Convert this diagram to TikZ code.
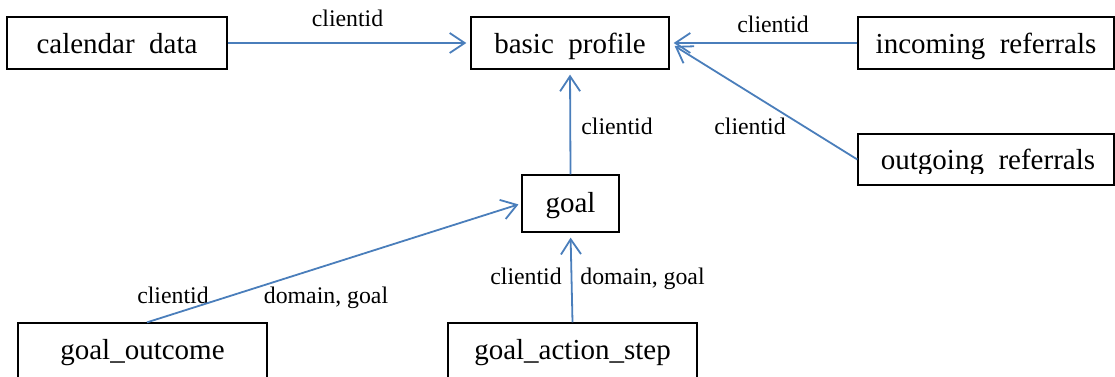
\documentclass[tikz,border=0pt]{standalone}
\usepackage{fontspec}
\setmainfont{Liberation Serif}
\usetikzlibrary{arrows.meta,calc}
\definecolor{linkblue}{HTML}{4A7EBB}
\tikzset{
  box/.style={draw=black, line width=1.3pt, inner sep=0pt, font=\fontsize{29}{34}\selectfont},
  tbox/.style={box, text height=36.5pt, text depth=15.5pt, minimum height=52pt},
  bbox/.style={box, text height=36pt, text depth=22pt, minimum height=58pt, minimum width=249pt},
  lbl/.style={font=\fontsize{23.8}{28}\selectfont, anchor=base, inner sep=0pt},
  link/.style={draw=linkblue, line width=1.8pt, -{Straight Barb[length=15pt,width=20pt]}},
}
\begin{document}
\begin{tikzpicture}[x=1pt,y=-1pt]
\useasboundingbox (0,0) rectangle (1115,377);
\clip (0,0) rectangle (1115,377);
% boxes
\node[tbox, minimum width=220pt] (calendar) at (117,43) {calendar\ \ data};
\node[tbox, minimum width=198pt] (basic) at (570,43) {basic\ \ profile};
\node[tbox, minimum width=256pt] (incoming) at (986,43) {incoming\ \ referrals};
\node[box, minimum width=256pt, minimum height=51pt] (outgoing) at (986,159.5) {};
\begin{scope}
  \clip (858,134) rectangle (1114,173);
  \node[font=\fontsize{29}{34}\selectfont, anchor=base, inner sep=0pt] (outgoingtext) at (988,169) {outgoing\ \ referrals};
\end{scope}
\node[box, minimum width=97pt, minimum height=57pt, text height=37pt, text depth=20pt] (goal) at (570.5,203.5) {goal};
\node[bbox] (goalout) at (142.5,352) {goal\_outcome};
\node[bbox] (gas) at (572.5,352) {goal\_action\_step};
% labels
\node[lbl] (l1) at (347.5,26.5) {clientid};
\node[lbl] (l2) at (773,33) {clientid};
\node[lbl] (l3) at (617,134.5) {clientid};
\node[lbl] (l4) at (750,134.5) {clientid};
\node[lbl] (l5) at (173,303) {clientid};
\node[lbl] (l6) at (326,303) {domain, goal};
\node[lbl] (l7) at (526,284) {clientid};
\node[lbl] (l8) at (642.5,284) {domain, goal};
% connectors
\draw[link, shorten >=4pt] (calendar.east) -- (basic.west);
\draw[link, shorten >=4pt] (incoming.west) -- (basic.east);
\draw[link] (outgoing.west) -- ($(basic.east)+(5,3)$);
\draw[link, shorten >=5pt] (goal.north) -- (basic.south);
\draw[link, shorten >=3pt] ($(goalout.north)+(4.5,0)$) -- (goal.west);
\draw[link, shorten >=5pt] (gas.north) -- (goal.south);
\end{tikzpicture}
\end{document}
